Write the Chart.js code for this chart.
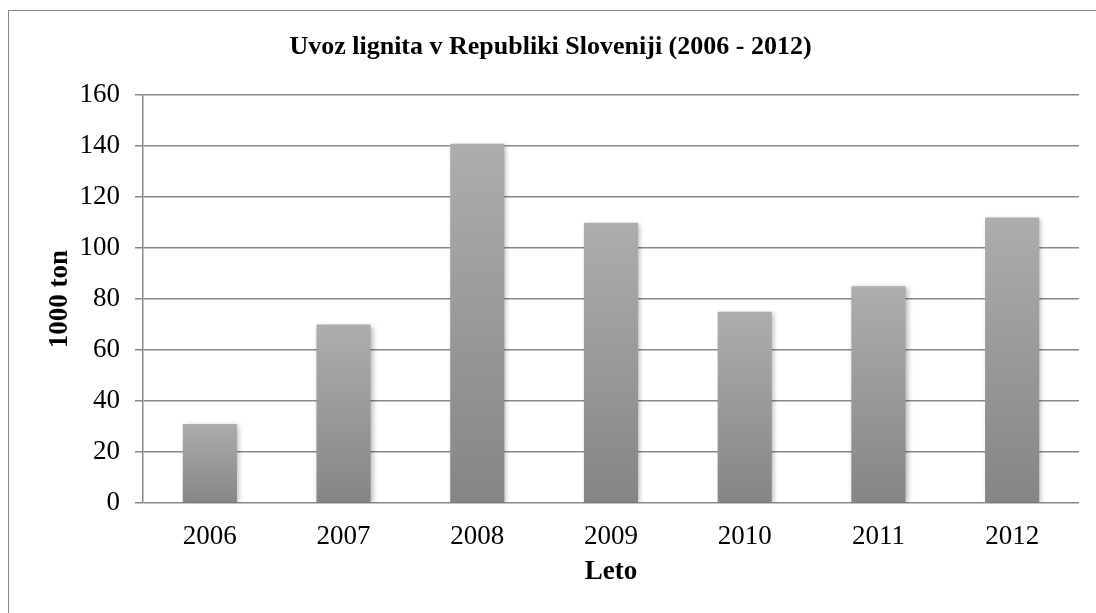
<!DOCTYPE html>
<html>
<head>
<meta charset="utf-8">
<script src="https://cdn.jsdelivr.net/npm/chart.js@4/dist/chart.umd.min.js"></script>
<style>
  html, body { margin: 0; padding: 0; background: #fff; overflow: hidden; }
  #wrap { position: relative; width: 1096px; height: 613px; overflow: hidden; }
  #frame { position: absolute; left: 8px; top: 10px; width: 1300px; height: 900px;
           border: 1.5px solid #8a8a8a; box-sizing: border-box; pointer-events: none; }
  canvas { position: absolute; left: 0; top: 0; }
</style>
</head>
<body>
<div id="wrap">
  <canvas id="chart" width="1096" height="613"></canvas>
  <div id="frame"></div>
</div>
<script>
// Lignite imports, thousand tonnes per year
const years = ['2006', '2007', '2008', '2009', '2010', '2011', '2012'];
const imports = [31, 70, 141, 110, 75, 85, 112];
const yTickValues = [0, 20, 40, 60, 80, 100, 120, 140, 160];

const SERIF = "'Liberation Serif', 'Times New Roman', serif";
const GRID = '#888888';

// Soft drop shadow behind the bars
const barShadow = {
  id: 'barShadow',
  beforeDatasetsDraw(chart) {
    const c = chart.ctx;
    c.save();
    c.shadowColor = 'rgba(0,0,0,0.28)';
    c.shadowBlur = 5;
    c.shadowOffsetX = 2;
    c.shadowOffsetY = 1;
  },
  afterDatasetsDraw(chart) {
    chart.ctx.restore();
  }
};

// Each bar shades from light grey at its top to darker grey at its base
function barGradient(context) {
  const chart = context.chart;
  const { chartArea, scales } = chart;
  if (!chartArea || context.type !== 'data') return '#9a9a9a';
  const top = scales.y.getPixelForValue(context.raw);
  const base = scales.y.getPixelForValue(0);
  const g = chart.ctx.createLinearGradient(0, top, 0, base);
  g.addColorStop(0, '#adadad');
  g.addColorStop(1, '#858585');
  return g;
}

new Chart(document.getElementById('chart'), {
  type: 'bar',
  data: {
    labels: years,
    datasets: [{
      label: 'Uvoz lignita',
      data: imports,
      backgroundColor: barGradient,
      borderWidth: 0,
      barPercentage: 0.405,
      categoryPercentage: 1.0
    }]
  },
  options: {
    responsive: false,
    devicePixelRatio: 1,
    animation: false,
    layout: { padding: { left: 22, right: 17, top: 0, bottom: 0 } },
    plugins: {
      legend: { display: false },
      tooltip: { enabled: false },
      title: {
        display: true,
        text: 'Uvoz lignita v Republiki Sloveniji (2006 - 2012)',
        color: '#000',
        font: { family: SERIF, size: 26, weight: 'bold' },
        padding: { top: 32, bottom: 32 }
      }
    },
    scales: {
      x: {
        grid: { display: false },
        border: { display: false },
        ticks: {
          color: '#000',
          font: { family: SERIF, size: 27 },
          padding: 10
        },
        title: {
          display: true,
          text: 'Leto',
          color: '#000',
          font: { family: SERIF, size: 27, weight: 'bold' },
          padding: { top: 0, bottom: 25 }
        },
        afterFit(scale) { scale.height = 110; }
      },
      y: {
        min: 0,
        max: 160,
        afterBuildTicks(scale) {
          scale.ticks = yTickValues.map(v => ({ value: v }));
        },
        grid: {
          color: GRID,
          lineWidth: 1.5,
          drawTicks: true,
          tickLength: 8
        },
        border: { display: true, color: GRID, width: 1.5 },
        ticks: {
          color: '#000',
          font: { family: SERIF, size: 27 },
          padding: 15
        },
        title: {
          display: true,
          text: '1000 ton',
          color: '#000',
          font: { family: SERIF, size: 27, weight: 'bold' },
          padding: { top: 22, bottom: 0 }
        },
        afterFit(scale) { scale.width = 121; }
      }
    }
  },
  plugins: [barShadow]
});
</script>
</body>
</html>
